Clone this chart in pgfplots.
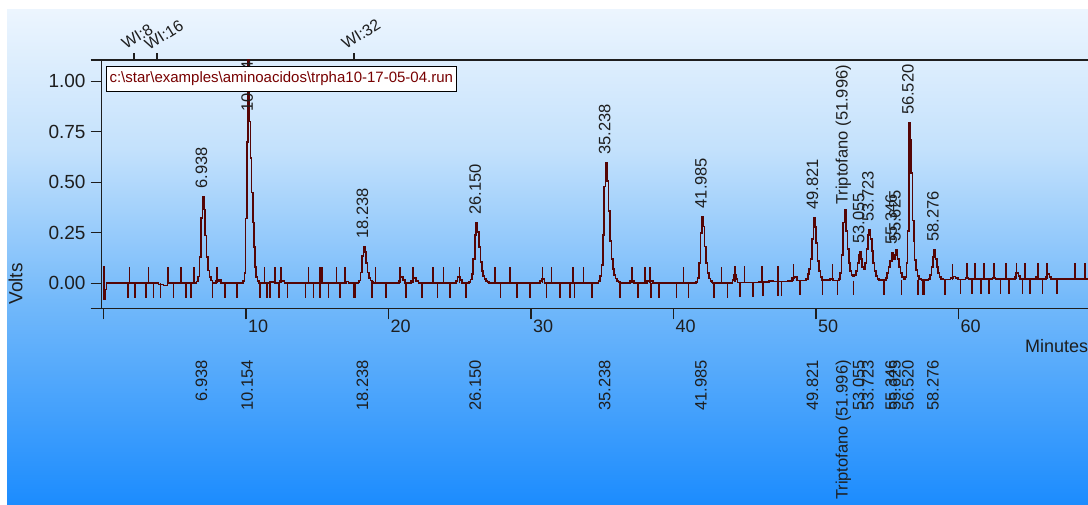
\documentclass[border=0pt]{standalone}
\usepackage{fontspec}
\setmainfont{Liberation Sans}
\usepackage{pgfplots}
\pgfplotsset{compat=1.18}

\definecolor{bgA}{RGB}{236,245,254}
\definecolor{bgB}{RGB}{195,225,252}
\definecolor{bgC}{RGB}{115,185,250}
\definecolor{bgD}{RGB}{28,140,254}
\definecolor{trace}{RGB}{85,5,5}
\definecolor{axcol}{RGB}{30,30,30}
\definecolor{fname}{RGB}{120,0,0}

\tikzset{
  toplbl/.style={rotate=90, anchor=west, inner sep=0pt, text=axcol,
    font=\fontsize{16.5}{18}\selectfont},
  botlbl/.style={rotate=90, anchor=east, inner sep=0pt, text=axcol,
    font=\fontsize{16.5}{18}\selectfont},
  wilbl/.style={rotate=32, anchor=base west, inner sep=0pt, text=axcol,
    font=\fontsize{16}{18}\selectfont},
}

\begin{document}
\begin{tikzpicture}
\useasboundingbox (0pt,0pt) rectangle (1088pt,504pt);
\clip (0pt,0pt) rectangle (1088pt,504pt);
\fill[white] (0pt,0pt) rectangle (1088pt,504pt);
% background gradient, three bands
\shade[top color=bgA, bottom color=bgB] (7pt,353.5pt) rectangle (1088pt,494pt);
\shade[top color=bgB, bottom color=bgC] (7pt,203.5pt) rectangle (1088pt,354pt);
\shade[top color=bgC, bottom color=bgD] (7pt,0pt) rectangle (1088pt,204pt);

\begin{axis}[
  at={(101.7pt,195.7pt)}, anchor=south west,
  scale only axis, width=986.3pt, height=248.3pt,
  xmin=-0.126, xmax=69.09, ymin=-0.1238, ymax=1.105,
  axis x line*=box, axis y line*=left,
  axis line style={-, line width=1.5pt, draw=axcol},
  xtick={0,10,...,60}, xticklabels={,10,20,30,40,50,60},
  ytick={0,0.25,0.5,0.75,1}, yticklabels={0.00,0.25,0.50,0.75,1.00},
  extra y ticks={-0.1238,1.105}, extra y tick labels={},
  xtick pos=bottom, ytick pos=left,
  tick align=outside, major tick length=11pt,
  tick style={line width=1.3pt, draw=axcol},
  tick label style={font=\fontsize{18}{20}\selectfont, text=axcol},
  xticklabel style={anchor=north west, inner sep=0pt, xshift=2pt},
  yticklabel style={anchor=east, inner sep=0pt, xshift=-5pt, font=\fontsize{19}{21}\selectfont},
  clip mode=individual,
]

% chromatogram trace
\addplot[const plot, trace, line width=1.6pt] coordinates {
  (0,0.08) (0.03,-0.08) (0.1,-0.03) (0.2,0)
  (3.85,-0.007) (4.2,-0.01) (4.5,0)
  (6.54,0.009) (6.64,0.034) (6.74,0.129) (6.84,0.322) (6.94,0.429) (7.04,0.365)
  (7.14,0.236) (7.24,0.129) (7.34,0.064) (7.44,0.030) (7.54,0.013) (7.64,0.004) (7.74,0)
  (7.9,0.012) (8.1,0.018) (8.25,0)
  (9.80,0.01) (9.90,0.05) (9.97,0.32) (10.07,0.70) (10.12,1.25) (10.22,0.80)
  (10.32,0.62) (10.40,0.45) (10.48,0.30) (10.56,0.18) (10.64,0.08) (10.72,0.03)
  (10.82,0.01) (10.92,0)
  (11.7,0.006) (12.0,0) (12.35,0.012) (12.7,0)
  (17.0,0.008) (17.2,0)
  (17.84,0.004) (17.94,0.014) (18.04,0.054) (18.14,0.136) (18.24,0.181) (18.34,0.154)
  (18.44,0.100) (18.54,0.054) (18.64,0.027) (18.74,0.013) (18.84,0.005) (18.94,0)
  (20.75,0.012) (20.85,0.03) (21.0,0.015) (21.15,0)
  (21.6,0.012) (21.75,0.025) (21.95,0.012) (22.1,0)
  (24.75,0.012) (24.85,0.03) (25.0,0.015) (25.15,0)
  (25.65,0.006) (25.75,0.018) (25.85,0.045) (25.95,0.120) (26.05,0.239) (26.15,0.299)
  (26.25,0.254) (26.35,0.179) (26.45,0.105) (26.55,0.060) (26.65,0.036) (26.75,0.021)
  (26.85,0.012) (26.95,0.006) (27.05,0)
  (30.65,0.01) (30.75,0.02) (30.95,0)
  (34.74,0.012) (34.84,0.036) (34.94,0.090) (35.04,0.239) (35.14,0.478) (35.24,0.597)
  (35.34,0.507) (35.44,0.358) (35.54,0.209) (35.64,0.119) (35.74,0.072) (35.84,0.042)
  (35.94,0.024) (36.04,0.012) (36.14,0.006) (36.24,0)
  (36.95,0.01) (37.25,0) (38.15,0.012) (38.55,0)
  (41.59,0.007) (41.69,0.026) (41.79,0.099) (41.89,0.248) (41.99,0.330) (42.09,0.281)
  (42.19,0.182) (42.29,0.099) (42.39,0.050) (42.49,0.023) (42.59,0.010) (42.69,0.003) (42.79,0)
  (44.15,0.015) (44.25,0.04) (44.4,0.02) (44.5,0.004)
  (46.0,0.006) (46.7,0.012) (47.0,0.008) (48.0,0.012) (48.3,0.025) (48.5,0.03) (48.65,0.014)
  (49.32,0.02) (49.42,0.045) (49.52,0.07) (49.62,0.12) (49.72,0.22) (49.82,0.323)
  (49.92,0.28) (50.02,0.20) (50.12,0.11) (50.22,0.06) (50.32,0.03) (50.42,0.016)
  (50.9,0.014) (51.0,0.02) (51.2,0.014)
  (51.60,0.02) (51.70,0.05) (51.80,0.14) (51.90,0.30) (52.00,0.363) (52.10,0.26)
  (52.20,0.17) (52.30,0.10) (52.40,0.06) (52.50,0.04) (52.60,0.035) (52.70,0.04)
  (52.80,0.06) (52.90,0.10) (53.00,0.14) (53.05,0.156) (53.15,0.12) (53.25,0.08)
  (53.35,0.07) (53.45,0.10) (53.55,0.17) (53.65,0.24) (53.72,0.264) (53.82,0.22)
  (53.92,0.16) (54.02,0.10) (54.12,0.06) (54.22,0.035) (54.32,0.022) (54.42,0.016)
  (54.90,0.025) (55.00,0.05) (55.10,0.08) (55.20,0.11) (55.35,0.149) (55.45,0.12)
  (55.55,0.14) (55.63,0.168) (55.73,0.12) (55.83,0.08) (55.93,0.05) (56.03,0.03) (56.13,0.02)
  (56.26,0.03) (56.36,0.10) (56.42,0.26) (56.52,0.792) (56.58,0.71) (56.66,0.545)
  (56.76,0.31) (56.86,0.21) (56.92,0.115) (57.02,0.066) (57.12,0.035) (57.22,0.02) (57.4,0.016)
  (57.90,0.02) (58.00,0.04) (58.10,0.08) (58.20,0.13) (58.28,0.165) (58.38,0.12)
  (58.48,0.08) (58.58,0.05) (58.68,0.03) (58.78,0.022) (58.9,0.018)
  (59.45,0.025) (59.6,0.033) (59.8,0.025) (59.95,0.018)
  (60.5,0.026) (60.7,0.02) (62.4,0.028) (62.6,0.02)
  (63.95,0.03) (64.05,0.05) (64.2,0.035) (64.3,0.02)
  (65.45,0.03) (65.6,0.02) (66.15,0.03) (66.25,0.045) (66.4,0.03) (66.5,0.021) (69.1,0.021)
};

% event marks above the baseline
\addplot[trace, line width=1.6pt, unbounded coords=jump] coordinates {
  (1.82,0)(1.82,0.08)(1.82,nan) (3.17,0)(3.17,0.08)(3.17,nan)
  (4.53,0)(4.53,0.08)(4.53,nan) (5.46,0)(5.46,0.08)(5.46,nan)
  (6.37,0)(6.37,0.08)(6.37,nan) (7.98,0)(7.98,0.08)(7.98,nan)
  (11.30,0)(11.30,0.08)(11.30,nan) (12.04,0)(12.04,0.08)(12.04,nan)
  (12.46,0)(12.46,0.08)(12.46,nan) (14.38,0)(14.38,0.08)(14.38,nan)
  (15.19,0)(15.19,0.08)(15.19,nan) (15.35,0)(15.35,0.08)(15.35,nan)
  (16.36,0)(16.36,0.08)(16.36,nan) (16.95,0)(16.95,0.08)(16.95,nan)
  (19.10,0)(19.10,0.08)(19.10,nan) (20.81,0)(20.81,0.08)(20.81,nan)
  (21.70,0)(21.70,0.08)(21.70,nan) (23.14,0)(23.14,0.08)(23.14,nan)
  (23.85,0)(23.85,0.08)(23.85,nan) (24.97,0)(24.97,0.08)(24.97,nan)
  (27.47,0)(27.47,0.08)(27.47,nan) (28.53,0)(28.53,0.08)(28.53,nan)
  (30.80,0)(30.80,0.08)(30.80,nan) (31.45,0)(31.45,0.08)(31.45,nan)
  (32.93,0)(32.93,0.08)(32.93,nan) (33.68,0)(33.68,0.08)(33.68,nan)
  (37.07,0)(37.07,0.08)(37.07,nan) (38.00,0)(38.00,0.08)(38.00,nan)
  (38.35,0)(38.35,0.08)(38.35,nan) (40.69,0)(40.69,0.08)(40.69,nan)
  (43.38,0)(43.38,0.08)(43.38,nan)
  (44.32,0.004)(44.32,0.084)(44.32,nan) (44.97,0.004)(44.97,0.084)(44.97,nan)
  (46.23,0.008)(46.23,0.088)(46.23,nan) (47.35,0.008)(47.35,0.088)(47.35,nan)
  (48.41,0.013)(48.41,0.093)(48.41,nan) (51.15,0.013)(51.15,0.093)(51.15,nan)
  (59.57,0.016)(59.57,0.096)(59.57,nan)
  (60.58,0.02)(60.58,0.10)(60.58,nan) (61.16,0.02)(61.16,0.10)(61.16,nan)
  (61.79,0.02)(61.79,0.10)(61.79,nan) (62.51,0.02)(62.51,0.10)(62.51,nan)
  (63.33,0.02)(63.33,0.10)(63.33,nan) (64.08,0.02)(64.08,0.10)(64.08,nan)
  (64.67,0.02)(64.67,0.10)(64.67,nan) (65.56,0.02)(65.56,0.10)(65.56,nan)
  (66.23,0.02)(66.23,0.10)(66.23,nan) (68.18,0.02)(68.18,0.10)(68.18,nan)
  (68.88,0.02)(68.88,0.10)(68.88,nan)
};

% event marks below the baseline
\addplot[trace, line width=1.6pt, unbounded coords=jump] coordinates {
  (1.70,0)(1.70,-0.072)(1.70,nan) (2.19,0)(2.19,-0.072)(2.19,nan)
  (2.99,0)(2.99,-0.072)(2.99,nan) (3.52,0)(3.52,-0.072)(3.52,nan)
  (3.99,0)(3.99,-0.072)(3.99,nan) (4.92,0)(4.92,-0.072)(4.92,nan)
  (5.79,0)(5.79,-0.072)(5.79,nan) (6.14,0)(6.14,-0.072)(6.14,nan)
  (7.65,0)(7.65,-0.072)(7.65,nan) (8.54,0)(8.54,-0.072)(8.54,nan)
  (9.36,0)(9.36,-0.072)(9.36,nan) (10.99,0)(10.99,-0.072)(10.99,nan)
  (11.46,0)(11.46,-0.072)(11.46,nan) (11.69,0)(11.69,-0.072)(11.69,nan)
  (12.32,0)(12.32,-0.072)(12.32,nan) (12.91,0)(12.91,-0.072)(12.91,nan)
  (14.19,0)(14.19,-0.072)(14.19,nan) (14.73,0)(14.73,-0.072)(14.73,nan)
  (15.19,0)(15.19,-0.072)(15.19,nan) (15.78,0)(15.78,-0.072)(15.78,nan)
  (16.60,0)(16.60,-0.072)(16.60,nan) (17.58,0)(17.58,-0.072)(17.58,nan)
  (17.63,0)(17.63,-0.072)(17.63,nan) (18.86,0)(18.86,-0.072)(18.86,nan)
  (19.80,0)(19.80,-0.072)(19.80,nan) (19.85,0)(19.85,-0.072)(19.85,nan)
  (21.21,0)(21.21,-0.072)(21.21,nan) (22.37,0)(22.37,-0.072)(22.37,nan)
  (23.45,0)(23.45,-0.072)(23.45,nan) (24.32,0)(24.32,-0.072)(24.32,nan)
  (25.44,0)(25.44,-0.072)(25.44,nan) (27.87,0)(27.87,-0.072)(27.87,nan)
  (29.00,0)(29.00,-0.072)(29.00,nan) (29.95,0)(29.95,-0.072)(29.95,nan)
  (31.10,0)(31.10,-0.072)(31.10,nan) (32.04,0)(32.04,-0.072)(32.04,nan)
  (32.74,0)(32.74,-0.072)(32.74,nan) (33.04,0)(33.04,-0.072)(33.04,nan)
  (34.30,0)(34.30,-0.072)(34.30,nan) (36.25,0)(36.25,-0.072)(36.25,nan)
  (37.49,0)(37.49,-0.072)(37.49,nan) (38.42,0)(38.42,-0.072)(38.42,nan)
  (38.98,0)(38.98,-0.072)(38.98,nan) (40.22,0)(40.22,-0.072)(40.22,nan)
  (41.04,0)(41.04,-0.072)(41.04,nan) (42.86,0)(42.86,-0.072)(42.86,nan)
  (43.80,0)(43.80,-0.072)(43.80,nan)
  (44.67,0.004)(44.67,-0.068)(44.67,nan) (45.60,0.004)(45.60,-0.068)(45.60,nan)
  (46.30,0.008)(46.30,-0.064)(46.30,nan) (47.35,0.008)(47.35,-0.064)(47.35,nan)
  (47.59,0.008)(47.59,-0.064)(47.59,nan)
  (48.88,0.013)(48.88,-0.059)(48.88,nan) (50.47,0.013)(50.47,-0.059)(50.47,nan)
  (51.52,0.013)(51.52,-0.059)(51.52,nan) (52.62,0.013)(52.62,-0.059)(52.62,nan)
  (54.79,0.013)(54.79,-0.059)(54.79,nan)
  (56.01,0.016)(56.01,-0.056)(56.01,nan) (57.18,0.016)(57.18,-0.056)(57.18,nan)
  (57.53,0.016)(57.53,-0.056)(57.53,nan) (57.58,0.016)(57.58,-0.056)(57.58,nan)
  (59.05,0.016)(59.05,-0.056)(59.05,nan)
  (60.15,0.02)(60.15,-0.052)(60.15,nan) (60.93,0.02)(60.93,-0.052)(60.93,nan)
  (61.58,0.02)(61.58,-0.052)(61.58,nan) (62.16,0.02)(62.16,-0.052)(62.16,nan)
  (62.96,0.02)(62.96,-0.052)(62.96,nan) (63.56,0.02)(63.56,-0.052)(63.56,nan)
  (64.50,0.02)(64.50,-0.052)(64.50,nan) (65.02,0.02)(65.02,-0.052)(65.02,nan)
  (65.91,0.02)(65.91,-0.052)(65.91,nan) (66.93,0.02)(66.93,-0.052)(66.93,nan)
};

% peak labels above the peaks
\node[toplbl] at (axis cs:6.87,0.469) {6.938};
\node[toplbl] at (axis cs:10.08,0.847) {10.154};
\node[toplbl] at (axis cs:18.17,0.221) {18.238};
\node[toplbl] at (axis cs:26.08,0.339) {26.150};
\node[toplbl] at (axis cs:35.17,0.637) {35.238};
\node[toplbl] at (axis cs:41.92,0.370) {41.985};
\node[toplbl] at (axis cs:49.75,0.363) {49.821};
\node[toplbl] at (axis cs:51.93,0.388) {Triptofano (51.996)};
\node[toplbl] at (axis cs:52.99,0.196) {53.055};
\node[toplbl] at (axis cs:53.65,0.304) {53.723};
\node[toplbl] at (axis cs:55.28,0.189) {55.346};
\node[toplbl] at (axis cs:55.55,0.208) {55.625};
\node[toplbl] at (axis cs:56.45,0.832) {56.520};
\node[toplbl] at (axis cs:58.21,0.205) {58.276};

% peak labels below the axis
\node[botlbl] at (axis cs:6.87,-0.3797) {6.938};
\node[botlbl] at (axis cs:10.08,-0.3797) {10.154};
\node[botlbl] at (axis cs:18.17,-0.3797) {18.238};
\node[botlbl] at (axis cs:26.08,-0.3797) {26.150};
\node[botlbl] at (axis cs:35.17,-0.3797) {35.238};
\node[botlbl] at (axis cs:41.92,-0.3797) {41.985};
\node[botlbl] at (axis cs:49.75,-0.3797) {49.821};
\node[botlbl] at (axis cs:51.93,-0.3797) {Triptofano (51.996)};
\node[botlbl] at (axis cs:52.99,-0.3797) {53.055};
\node[botlbl] at (axis cs:53.65,-0.3797) {53.723};
\node[botlbl] at (axis cs:55.28,-0.3797) {55.346};
\node[botlbl] at (axis cs:55.55,-0.3797) {55.625};
\node[botlbl] at (axis cs:56.45,-0.3797) {56.520};
\node[botlbl] at (axis cs:58.21,-0.3797) {58.276};
\end{axis}

% WI event ticks on the top line
\draw[axcol, line width=1.3pt] (134pt,444pt) -- (134pt,451pt);
\draw[axcol, line width=1.3pt] (157pt,444pt) -- (157pt,451pt);
\draw[axcol, line width=1.3pt] (354pt,444pt) -- (354pt,451pt);
\node[wilbl] at (126pt,454pt) {WI:8};
\node[wilbl] at (149pt,453pt) {WI:16};
\node[wilbl] at (346pt,454pt) {WI:32};

% axis titles
\node[rotate=90, text=axcol, font=\fontsize{19}{21}\selectfont] at (15.5pt,220pt) {Volts};
\node[anchor=base west, inner sep=0pt, text=axcol, font=\fontsize{18}{20}\selectfont]
  at (1025pt,151.3pt) {Minutes};

% file name box
\node[anchor=north west, draw=black, line width=1pt, fill=white, text=fname,
  inner xsep=3pt, inner ysep=0pt, minimum height=25pt,
  font=\fontsize{15}{17}\selectfont] at (106pt,438pt)
  {c:\textbackslash star\textbackslash examples\textbackslash aminoacidos\textbackslash trpha10-17-05-04.run};
\end{tikzpicture}
\end{document}
